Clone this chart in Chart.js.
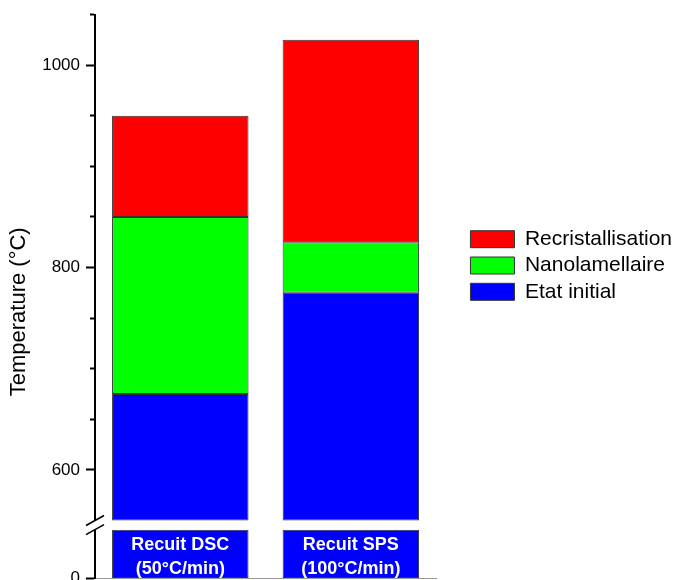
<!DOCTYPE html>
<html>
<head>
<meta charset="utf-8">
<script src="https://cdn.jsdelivr.net/npm/chart.js@4"></script>
<style>
  html, body { margin: 0; padding: 0; background: #fff; overflow: hidden; }
</style>
</head>
<body>
<canvas id="chart" width="677" height="593"></canvas>
<script>
const categories = [['Recuit DSC', '(50°C/min)'], ['Recuit SPS', '(100°C/min)']];
const etatInitial = [675, 775];
const nanolamellaire = [850, 825];
const recristallisation = [950, 1025];
const breakAt = 550;
const lowerPart = [550, 550];
const tickValues = [600, 650, 700, 750, 800, 850, 900, 950, 1000, 1050];
const tickLabels = [600, 800, 1000];
const lowTickValues = [0];

const FONT = "'Liberation Sans', Arial, sans-serif";
const axisWidth = 65;
Chart.defaults.font.family = FONT;
Chart.defaults.color = '#000';

// white labels inside the bottom part of the bars
const baseLabels = {
    id: 'baseLabels',
    afterDatasetsDraw(chart) {
        const { ctx, scales: { x, yLow } } = chart;
        const mid = (yLow.top + yLow.bottom) / 2 + 3;
        ctx.save();
        ctx.fillStyle = '#fff';
        ctx.font = 'bold 18px ' + FONT;
        ctx.textAlign = 'center';
        ctx.textBaseline = 'middle';
        chart.data.labels.forEach((lines, i) => {
            const cx = x.getPixelForValue(i);
            lines.forEach((t, j) => ctx.fillText(t, cx, mid + (j - (lines.length - 1) / 2) * 24));
        });
        ctx.restore();
    }
};

// the two slashes of the broken axis
const axisBreak = {
    id: 'axisBreak',
    afterDraw(chart) {
        const { ctx, scales: { y } } = chart;
        const ax = chart.chartArea.left;
        const y1 = y.getPixelForValue(breakAt);
        const y2 = y.bottom;
        ctx.save();
        ctx.fillStyle = '#fff';
        ctx.fillRect(ax - 3, y1, 6, y2 - y1);
        ctx.strokeStyle = '#000';
        ctx.lineWidth = 1.6;
        [y1, y2].forEach(py => {
            ctx.beginPath();
            ctx.moveTo(ax - 9, py + 5);
            ctx.lineTo(ax + 9, py - 5);
            ctx.stroke();
        });
        ctx.restore();
    }
};

const chart = new Chart(document.getElementById('chart'), {
    type: 'bar',
    data: {
        labels: categories,
        datasets: [
            { label: 'Etat initial', data: etatInitial.map(v => [breakAt, v]), backgroundColor: '#0000ff', yAxisID: 'y' },
            { label: 'Nanolamellaire', data: nanolamellaire.map((v, i) => [etatInitial[i], v]), backgroundColor: '#00ff00', yAxisID: 'y' },
            { label: 'Recristallisation', data: recristallisation.map((v, i) => [nanolamellaire[i], v]), backgroundColor: '#ff0000', yAxisID: 'y' },
            { label: 'base', data: lowerPart, backgroundColor: '#0000ff', yAxisID: 'yLow' }
        ]
    },
    options: {
        responsive: false,
        animation: false,
        layout: { padding: { top: 0, right: -5, bottom: 0, left: 0 } },
        datasets: {
            bar: { grouped: false, barPercentage: 0.8, categoryPercentage: 1, borderColor: '#333', borderWidth: 1, borderSkipped: false }
        },
        scales: {
            x: {
                ticks: { display: false },
                grid: { drawOnChartArea: false, drawTicks: false },
                border: { color: '#999', width: 1 }
            },
            yLow: {
                position: 'left',
                stack: 'temp',
                stackWeight: 49,
                min: 0,
                max: 550,
                afterBuildTicks: s => { s.ticks = lowTickValues.map(v => ({ value: v })); },
                afterFit: s => { s.width = axisWidth; },
                ticks: { padding: 6, font: { size: 17, lineHeight: 1 }, color: '#000' },
                grid: { drawOnChartArea: false, tickLength: 9, tickWidth: 2, tickColor: '#000' },
                border: { color: '#000', width: 2 }
            },
            y: {
                position: 'left',
                stack: 'temp',
                stackWeight: 517,
                min: 541,
                max: 1050,
                afterBuildTicks: s => { s.ticks = tickValues.map(v => ({ value: v })); },
                afterFit: s => { s.width = axisWidth; },
                ticks: {
                    autoSkip: false,
                    padding: 6,
                    font: { size: 17, lineHeight: 1 },
                    color: '#000',
                    callback: v => tickLabels.includes(v) ? String(v) : ''
                },
                grid: {
                    drawOnChartArea: false,
                    tickLength: 9,
                    tickWidth: 2,
                    tickColor: '#000',
                    tickBorderDash: c => tickLabels.includes(c.tick.value) ? [] : [0, 4, 4, 20]
                },
                border: { color: '#000', width: 2 }
            },
            yTitle: {
                position: 'left',
                weight: 1,
                ticks: { display: false },
                grid: { display: false },
                border: { display: false },
                title: {
                    display: true,
                    text: 'Temperature (°C)\u00a0\u00a0\u00a0\u00a0\u00a0',
                    font: { size: 22 },
                    color: '#000',
                    padding: { top: 6, bottom: 0 }
                },
                afterFit: s => { s.width = 30; }
            },
            yPad: {
                position: 'right',
                ticks: { display: false },
                grid: { display: false },
                border: { display: false },
                afterFit: s => { s.width = 29; }
            }
        },
        plugins: {
            legend: {
                position: 'right',
                align: 'start',
                reverse: true,
                maxWidth: 320,
                title: { display: true, text: '', padding: { top: 209, bottom: 0 } },
                labels: {
                    filter: item => item.datasetIndex < 3,
                    boxWidth: 44,
                    boxHeight: 17,
                    padding: 5.3,
                    font: { size: 21 },
                    color: '#000'
                }
            },
            tooltip: { enabled: false }
        }
    },
    plugins: [baseLabels, axisBreak]
});
</script>
</body>
</html>
